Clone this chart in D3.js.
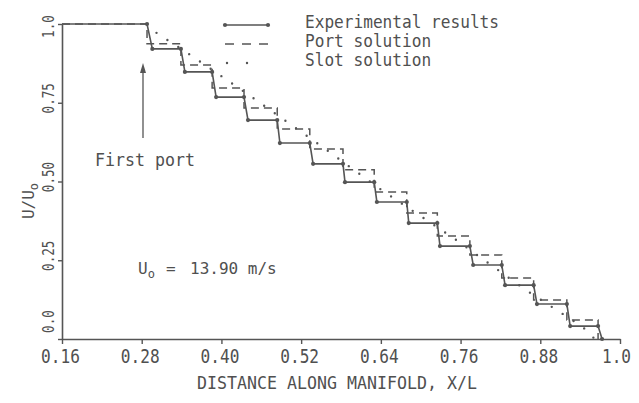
<!DOCTYPE html>
<html>
<head>
<meta charset="utf-8">
<script src="https://cdn.jsdelivr.net/npm/d3@7"></script>
<style>
  html, body { margin: 0; padding: 0; background: #fff; }
  svg { display: block; }
  text { font-family: "DejaVu Sans Mono", "Liberation Mono", monospace; fill: #505050; }
</style>
</head>
<body>
<svg id="chart" width="639" height="403"></svg>
<script>
// Axis ticks
const xTicks = [0.16, 0.28, 0.40, 0.52, 0.64, 0.76, 0.88, 1.0];
const xTickLabels = ["0.16", "0.28", "0.40", "0.52", "0.64", "0.76", "0.88", "1.0"];
const yTicks = [0, 0.25, 0.5, 0.75, 1.0];
const yTickLabels = ["0.0", "0.25", "0.50", "0.75", "1.0"];

// Port locations (X/L) where the velocity steps down
const portX = [0.288, 0.339, 0.386, 0.434, 0.484, 0.533, 0.583, 0.630, 0.679, 0.725, 0.774, 0.822, 0.870, 0.920, 0.967];

// Experimental results: start of each plateau and its U/Uo level
const expStartX = [0.16, 0.296, 0.345, 0.392, 0.440, 0.488, 0.538, 0.586, 0.634, 0.682, 0.729, 0.779, 0.827, 0.875, 0.925, 0.973];
const expLevel  = [1.0, 0.921, 0.848, 0.768, 0.695, 0.622, 0.556, 0.498, 0.435, 0.368, 0.295, 0.235, 0.171, 0.111, 0.041, 0.0];

// Port solution: plateau levels between ports
const portLevel = [1.0, 0.937, 0.870, 0.797, 0.733, 0.667, 0.603, 0.537, 0.467, 0.400, 0.327, 0.267, 0.194, 0.124, 0.060, 0.0];

// Slot solution: continuous distribution
const slotX = [0.288, 0.300, 0.356, 0.450, 0.544, 0.643, 0.749, 0.858, 0.944, 0.962];
const slotY = [1.0, 0.975, 0.898, 0.762, 0.622, 0.470, 0.321, 0.156, 0.038, 0.0];

const legendItems = ["Experimental results", "Port solution", "Slot solution"];

const ink = "#555";
const svg = d3.select("#chart");

const x = d3.scaleLinear().domain([0.16, 1.0]).range([62, 620]);
const y = d3.scaleLinear().domain([0, 1]).range([339, 24]);

// ---- Axes ----
const xAxis = svg.append("g")
  .attr("transform", `translate(0,${y(0)})`)
  .call(d3.axisBottom(x).tickValues(xTicks).tickSize(5).tickSizeOuter(0)
        .tickFormat((d, i) => xTickLabels[i]));
xAxis.select(".domain").attr("stroke", ink).attr("stroke-width", 1.6);
xAxis.selectAll(".tick line").attr("stroke", ink).attr("stroke-width", 1.4);
xAxis.selectAll(".tick text")
  .attr("x", d => d === 1 ? -4 : -2)
  .attr("y", 24).attr("dy", 0)
  .attr("font-size", 20)
  .attr("fill", "#505050")
  .attr("font-family", "DejaVu Sans Mono")
  .attr("textLength", (d, i) => xTickLabels[i].length * 9.7)
  .attr("lengthAdjust", "spacingAndGlyphs");

function yLabelShift(d) {
  if (d === 0) return -18;
  if (d === 1) return 2;
  return -5;
}
const yAxis = svg.append("g")
  .attr("transform", `translate(${x(0.16)},0)`)
  .call(d3.axisLeft(y).tickValues(yTicks).tickSize(4).tickSizeOuter(0)
        .tickFormat((d, i) => yTickLabels[i]));
yAxis.select(".domain").attr("stroke", ink).attr("stroke-width", 1.6);
yAxis.selectAll(".tick line").attr("stroke", ink).attr("stroke-width", 1.4);
yAxis.selectAll(".tick text")
  .attr("x", 0).attr("dy", 0)
  .attr("transform", d => `translate(-8,${yLabelShift(d)}) rotate(-90)`)
  .attr("text-anchor", "middle")
  .attr("font-size", 16)
  .attr("fill", "#505050")
  .attr("font-family", "DejaVu Sans Mono")
  .attr("textLength", (d, i) => yTickLabels[i].length * 7.6)
  .attr("lengthAdjust", "spacingAndGlyphs");

// Axis titles
svg.append("text")
  .attr("x", 337).attr("y", 389)
  .attr("text-anchor", "middle")
  .attr("font-size", 17)
  .attr("textLength", 280).attr("lengthAdjust", "spacingAndGlyphs")
  .text("DISTANCE ALONG MANIFOLD, X/L");

const yTitle = svg.append("text")
  .attr("transform", "translate(34,201) rotate(-90)")
  .attr("text-anchor", "middle")
  .attr("font-size", 16);
yTitle.append("tspan").text("U/U");
yTitle.append("tspan").attr("dy", 4).attr("font-size", 12).text("o");

// ---- Series ----
const lineGen = d3.line().x(d => x(d[0])).y(d => y(d[1]));

// Experimental: plateaus joined by short slanted drops at each port
const expPts = [];
expStartX.forEach((sx, i) => {
  expPts.push([sx, expLevel[i]]);
  if (i < portX.length) expPts.push([portX[i], expLevel[i]]);
});
svg.append("path")
  .attr("d", lineGen(expPts))
  .attr("fill", "none").attr("stroke", ink).attr("stroke-width", 1.6);
svg.selectAll("circle.exp")
  .data(expPts.slice(1))
  .join("circle").attr("class", "exp")
  .attr("cx", d => x(d[0])).attr("cy", d => y(d[1]))
  .attr("r", 2.1).attr("fill", ink);

// Port solution: vertical drops at each port
const portPts = [[0.16, portLevel[0]]];
portX.forEach((px, i) => {
  portPts.push([px, portLevel[i]]);
  portPts.push([px, portLevel[i + 1]]);
});
svg.append("path")
  .attr("d", lineGen(portPts))
  .attr("fill", "none").attr("stroke", ink).attr("stroke-width", 1.5)
  .attr("stroke-dasharray", "8,5");

// Slot solution: dotted curve
svg.append("path")
  .attr("d", lineGen(slotX.map((v, i) => [v, slotY[i]])))
  .attr("fill", "none").attr("stroke", ink).attr("stroke-width", 2.4)
  .attr("stroke-linecap", "round")
  .attr("stroke-dasharray", "0,13");

// ---- Legend ----
const lg = svg.append("g");
const rowY = [25, 44, 63];
const baseY = [28, 47, 66];
lg.append("line").attr("x1", 225).attr("x2", 268).attr("y1", rowY[0]).attr("y2", rowY[0])
  .attr("stroke", ink).attr("stroke-width", 1.6);
lg.selectAll("circle").data([225, 268]).join("circle")
  .attr("cx", d => d).attr("cy", rowY[0]).attr("r", 2.1).attr("fill", ink);
lg.append("line").attr("x1", 225).attr("x2", 268).attr("y1", rowY[1]).attr("y2", rowY[1])
  .attr("stroke", ink).attr("stroke-width", 1.5).attr("stroke-dasharray", "9,8");
lg.append("line").attr("x1", 227).attr("x2", 267).attr("y1", rowY[2]).attr("y2", rowY[2])
  .attr("stroke", ink).attr("stroke-width", 2.4).attr("stroke-linecap", "round")
  .attr("stroke-dasharray", "0,20");
lg.selectAll("text").data(legendItems).join("text")
  .attr("x", 305).attr("y", (d, i) => baseY[i])
  .attr("font-size", 18)
  .attr("textLength", d => d.length * 9.7).attr("lengthAdjust", "spacingAndGlyphs")
  .text(d => d);

// ---- Annotations ----
svg.append("line")
  .attr("x1", 143).attr("x2", 143).attr("y1", 138).attr("y2", 70)
  .attr("stroke", ink).attr("stroke-width", 1.3);
svg.append("path")
  .attr("d", "M143,63 L140,73 L146,73 Z")
  .attr("fill", ink);
svg.append("text")
  .attr("x", 95).attr("y", 166)
  .attr("font-size", 17)
  .attr("textLength", 100).attr("lengthAdjust", "spacingAndGlyphs")
  .text("First port");

const u0 = svg.append("text").attr("x", 138).attr("y", 274).attr("font-size", 16);
u0.append("tspan").text("U");
u0.append("tspan").attr("dy", 4).attr("font-size", 12).text("o");
u0.append("tspan").attr("dy", -4).attr("x", 166).text("=");
u0.append("tspan").attr("x", 190).text("13.90 m/s");
</script>
</body>
</html>
